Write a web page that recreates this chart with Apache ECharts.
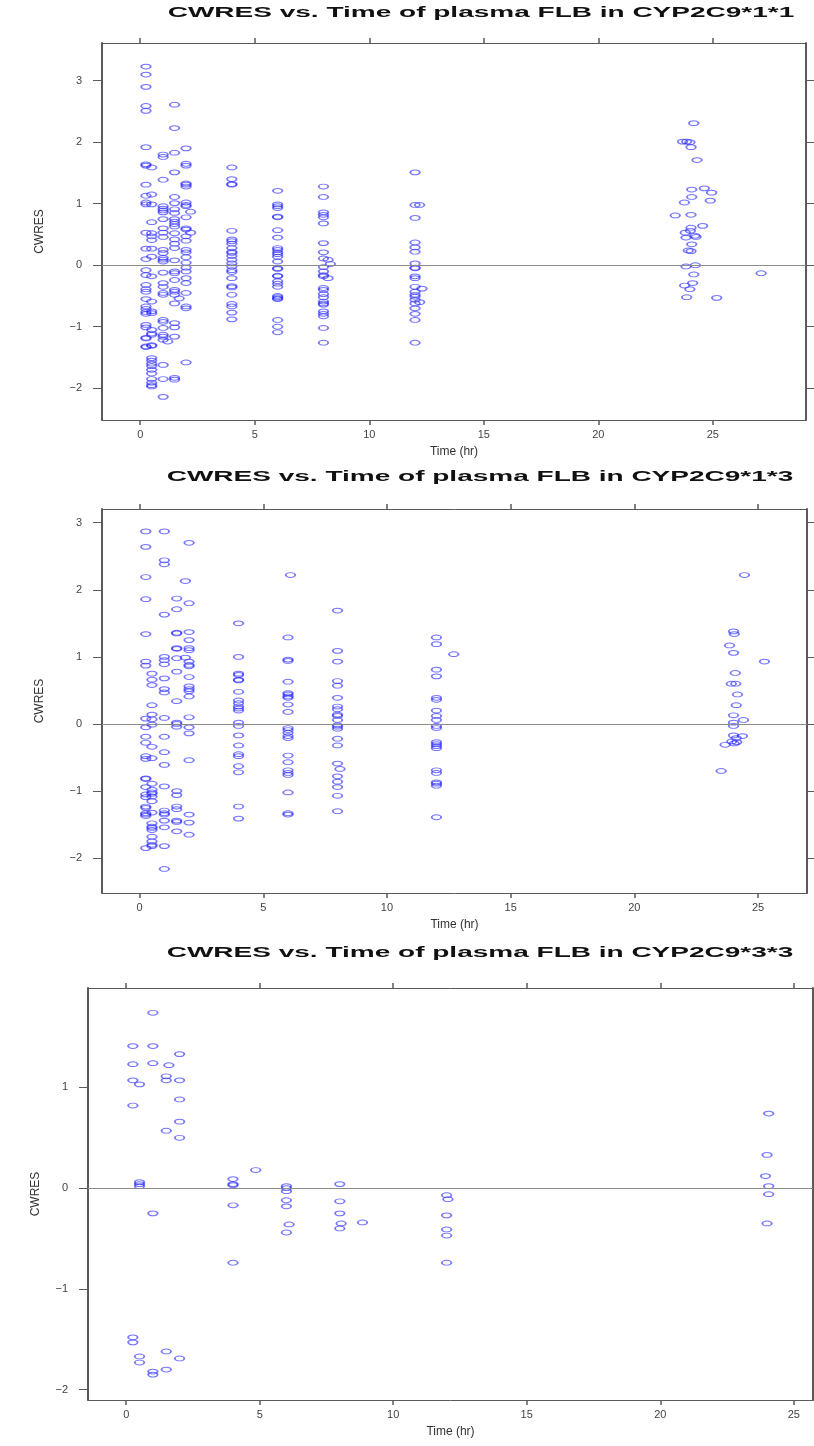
<!DOCTYPE html>
<html>
<head>
<meta charset="utf-8">
<script src="https://cdn.jsdelivr.net/npm/echarts@6/dist/echarts.min.js"></script>
<style>
  html, body { margin: 0; padding: 0; background: #ffffff; }
  #chart { width: 814px; height: 1446px; }
</style>
</head>
<body>
<div id="chart"></div>
<script>
// ---- tick labels ----
const xTicks = [0, 5, 10, 15, 20, 25];
const yTicksWide = [-2, -1, 0, 1, 2, 3];
const yTicksNarrow = [-2, -1, 0, 1];

// ---- panel titles ----
const panelTitles = [
  'CWRES vs. Time of plasma FLB in CYP2C9*1*1',
  'CWRES vs. Time of plasma FLB in CYP2C9*1*3',
  'CWRES vs. Time of plasma FLB in CYP2C9*3*3'
];

// ---- CYP2C9*1*1 : time (hr) and CWRES ----
const time11 = [
  0.25,0.25,0.25,0.25,0.25,0.25,0.25,0.25,0.25,0.25,0.25,0.25,0.25,0.25,0.25,0.25,
  0.25,0.25,0.25,0.25,0.25,0.25,0.25,0.25,0.25,0.25,0.25,0.25,0.25,0.25,0.25,
  0.5,0.5,0.5,0.5,0.5,0.5,0.5,0.5,0.5,0.5,0.5,0.5,0.5,0.5,0.5,0.5,0.5,0.5,0.5,0.5,
  0.5,0.5,0.5,0.5,0.5,0.5,0.5,0.5,
  1,1,1,1,1,1,1,1,1,1,1,1,1,1,1,1,1,1,1,1,1,1,1,1,1,1,1,1.2,1,1,1,
  1.5,1.5,1.5,1.5,1.5,1.5,1.5,1.5,1.5,1.5,1.5,1.5,1.5,1.5,1.5,1.5,1.5,1.5,1.5,1.5,
  1.5,1.5,1.5,1.7,1.5,1.5,1.5,1.5,1.5,1.5,
  2,2,2,2,2,2,2,2,2,2.2,2,2,2,2.2,2,2,2,2,2,2,2,2,2,2,2,2,2,2,
  4,4,4,4,4,4,4,4,4,4,4,4,4,4,4,4,4,4,4,4,4,4,4,4,4,
  6,6,6,6,6,6,6,6,6,6,6,6,6,6,6,6,6,6,6,6,6,6,6,6,6,6,6,6,
  8,8,8,8,8,8,8,8,8,8.2,8.3,8,8,8,8,8.2,8,8,8,8,8,8,8,8,8,8,8,8,
  12,12,12.2,12,12,12,12,12,12,12,12,12,12,12.3,12,12,12,12,12.2,12,12,12,12,12,
  24.17,23.68,23.86,24.0,24.05,24.31,24.08,24.63,24.95,24.08,24.89,23.76,23.36,24.05,
  24.56,24.05,24.02,23.8,24.22,23.83,24.27,24.08,23.93,24.05,23.83,24.24,27.11,24.17,
  24.12,23.77,24.0,23.86,25.17
];
const cwres11 = [
  3.23,3.10,2.90,2.59,2.51,1.92,1.64,1.62,1.31,1.13,1.02,0.99,0.53,0.27,0.10,-0.08,
  -0.16,-0.32,-0.39,-0.43,-0.55,-0.67,-0.71,-0.76,-0.79,-0.97,-1.01,-1.18,-1.19,-1.32,-1.33,
  1.59,1.15,0.99,0.70,0.52,0.47,0.41,0.27,0.14,-0.18,-0.59,-0.75,-0.78,-1.05,-1.11,-1.13,
  -1.30,-1.31,-1.51,-1.55,-1.60,-1.64,-1.70,-1.76,-1.85,-1.91,-1.95,-1.97,
  1.80,1.76,1.39,0.96,0.92,0.89,0.86,0.75,0.60,0.53,0.46,0.25,0.20,0.12,0.09,0.06,
  -0.12,-0.29,-0.35,-0.45,-0.48,-0.89,-0.92,-1.02,-1.13,-1.16,-1.21,-1.24,-1.62,-1.85,-2.14,
  2.61,2.23,1.83,1.51,1.11,1.01,0.91,0.85,0.75,0.71,0.67,0.63,0.52,0.42,0.35,0.28,
  0.08,-0.10,-0.13,-0.24,-0.40,-0.43,-0.48,-0.54,-0.62,-0.94,-1.01,-1.16,-1.83,-1.86,
  1.90,1.65,1.62,1.33,1.31,1.28,1.02,0.98,0.96,0.87,0.78,0.60,0.58,0.53,0.47,0.40,
  0.25,0.21,0.13,0.04,-0.04,-0.10,-0.21,-0.29,-0.45,-0.67,-0.70,-1.58,
  1.59,1.40,1.32,1.31,0.56,0.42,0.39,0.35,0.28,0.22,0.20,0.15,0.09,0.03,-0.02,-0.08,
  -0.11,-0.21,-0.34,-0.36,-0.48,-0.63,-0.67,-0.77,-0.88,
  1.21,0.99,0.96,0.93,0.79,0.78,0.57,0.45,0.28,0.25,0.21,0.18,0.14,0.06,-0.05,-0.06,
  -0.17,-0.18,-0.26,-0.30,-0.35,-0.50,-0.52,-0.54,-0.55,-0.89,-1.00,-1.09,
  1.28,1.11,0.86,0.82,0.78,0.68,0.36,0.21,0.11,0.09,0.02,-0.03,-0.10,-0.16,-0.18,-0.21,
  -0.37,-0.40,-0.47,-0.52,-0.59,-0.62,-0.64,-0.75,-0.79,-0.83,-1.02,-1.26,
  1.51,0.98,0.98,0.77,0.37,0.29,0.22,0.03,-0.04,-0.05,-0.18,-0.21,-0.35,-0.38,-0.43,-0.48,
  -0.51,-0.56,-0.60,-0.62,-0.70,-0.79,-0.89,-1.26,
  2.31,2.01,2.01,2.00,1.92,1.71,1.23,1.25,1.18,1.11,1.05,1.02,0.81,0.82,
  0.64,0.61,0.56,0.53,0.48,0.45,0.46,0.34,0.24,0.23,-0.02,0.00,-0.13,-0.15,
  -0.29,-0.33,-0.39,-0.52,-0.53
];

// ---- CYP2C9*1*3 : time (hr) and CWRES ----
const time13 = [
  0.25,0.25,0.25,0.25,0.25,0.25,0.25,0.25,0.25,0.25,0.25,0.25,0.25,0.25,0.25,0.25,
  0.25,0.25,0.25,0.25,0.25,0.25,0.25,0.25,
  0.5,0.5,0.5,0.5,0.5,0.5,0.5,0.5,0.5,0.5,0.5,0.5,0.5,0.5,0.5,0.5,0.5,0.5,0.5,0.5,
  0.5,0.5,0.5,0.5,
  1,1,1,1,1,1,1,1,1,1,1,1,1,1,1,1,1,1,1,1,1,1,
  1.5,1.5,1.5,1.5,1.5,1.5,1.5,1.5,1.5,1.5,1.5,1.5,1.5,1.5,1.5,1.5,1.5,1.5,1.5,
  1.85,1.85,
  2,2,2,2,2,2,2,2,2,2,2,2,2,2,2,2,2,2,2,2,2,
  4,4,4,4,4,4,4,4,4,4,4,4,4,4,4,4,4,4,4,4,4,4,
  6.1,6,6,6,6,6,6,6,6,6,6,6,6,6,6,6,6,6,6,6,6,6,6,6,
  8,8,8,8,8,8,8,8,8,8,8,8,8,8,8,8,8,8.1,8,8,8,8,8,
  12,12,12,12,12,12,12,12,12,12,12,12,12,12,12,12,12,12,12,12,12,12.7,
  24.45,24.01,24.04,23.85,24.01,25.26,24.08,23.92,24.1,24.17,24.12,24.01,24.41,24.01,
  24.01,24.01,24.37,24.12,23.94,24.14,24.04,23.67,23.51
];
const cwres13 = [
  2.87,2.64,2.19,1.86,1.34,0.93,0.87,0.08,-0.05,-0.19,-0.28,-0.48,-0.52,-0.81,-0.82,-0.94,
  -1.05,-1.09,-1.23,-1.25,-1.33,-1.35,-1.37,-1.85,
  0.75,0.66,0.58,0.28,0.14,0.07,-0.01,-0.34,-0.51,-0.89,-0.98,-1.02,-1.04,-1.08,-1.15,-1.32,
  -1.48,-1.53,-1.55,-1.58,-1.68,-1.75,-1.80,-1.82,
  2.87,2.44,2.38,1.63,1.00,0.95,0.89,0.68,0.52,0.47,0.09,-0.19,-0.42,-0.61,-0.93,-1.29,
  -1.33,-1.35,-1.44,-1.54,-1.82,-2.16,
  1.87,1.71,1.36,1.35,1.13,1.12,0.98,0.78,0.34,0.02,0.00,-0.04,-1.00,-1.06,-1.23,-1.27,
  -1.44,-1.46,-1.60,
  2.13,0.99,
  2.70,1.80,1.37,1.25,1.13,1.10,0.93,0.88,0.86,0.70,0.56,0.52,0.49,0.41,0.10,-0.05,
  -0.14,-0.54,-1.35,-1.47,-1.65,
  1.50,1.00,0.75,0.73,0.66,0.65,0.48,0.35,0.31,0.26,0.23,0.20,0.02,-0.03,-0.17,-0.32,
  -0.45,-0.48,-0.63,-0.72,-1.23,-1.41,
  2.22,1.29,0.96,0.94,0.63,0.46,0.44,0.41,0.39,0.29,0.18,-0.06,-0.09,-0.13,-0.18,-0.21,
  -0.47,-0.57,-0.69,-0.73,-0.76,-1.02,-1.33,-1.35,
  1.69,1.09,0.93,0.64,0.57,0.39,0.26,0.22,0.14,0.12,0.06,-0.02,-0.04,-0.07,-0.22,-0.32,
  -0.59,-0.67,-0.78,-0.86,-0.94,-1.07,-1.30,
  1.29,1.19,0.81,0.71,0.39,0.36,0.20,0.12,0.06,-0.03,-0.06,-0.27,-0.30,-0.33,-0.36,-0.69,
  -0.73,-0.87,-0.89,-0.92,-1.39,1.04,
  2.22,1.38,1.34,1.17,1.06,0.93,0.76,0.60,0.60,0.44,0.28,0.13,0.06,0.02,
  -0.03,-0.17,-0.18,-0.21,-0.26,-0.27,-0.29,-0.31,-0.70
];

// ---- CYP2C9*3*3 : time (hr) and CWRES ----
const time33 = [
  1.0,0.25,1.0,0.25,1.0,2.0,1.6,0.25,0.5,1.5,1.5,2.0,2.0,0.25,2.0,1.5,2.0,
  0.5,0.5,0.5,1.0,0.25,0.25,0.5,0.5,1.5,2.0,1.5,1.0,1.0,
  4,4,4,4,4,4.85,
  6,6,6,6,6,6.1,6,
  8,8,8,8.05,8,8.85,
  12,12.05,12,12,12,12,
  24.06,24.0,23.94,24.06,24.06,24.0
];
const cwres33 = [
  1.74,1.41,1.41,1.23,1.24,1.33,1.22,1.07,1.03,1.11,1.07,1.07,0.88,0.82,0.66,0.57,0.50,
  0.06,0.04,0.02,-0.25,-1.48,-1.53,-1.67,-1.73,-1.62,-1.69,-1.80,-1.82,-1.85,
  0.09,0.04,0.03,-0.17,-0.74,0.18,
  0.02,0.00,-0.03,-0.12,-0.18,-0.36,-0.44,
  0.04,-0.13,-0.25,-0.35,-0.40,-0.34,
  -0.07,-0.11,-0.27,-0.41,-0.47,-0.74,
  0.74,0.33,0.12,0.02,-0.06,-0.35
];

// ---- panel layout (pixel boxes and axis extents) ----
const panels = [
  { times: time11, values: cwres11, yTicks: yTicksWide,
    box: { left: 102, top: 43, width: 704, height: 377 },
    xMin: -1.67, xMax: 29.07, yMin: -2.516, yMax: 3.613,
    titleY: 13, titleX: 481, yNameGap: 56 },
  { times: time13, values: cwres13, yTicks: yTicksWide,
    box: { left: 102, top: 509, width: 705, height: 384 },
    xMin: -1.52, xMax: 26.98, yMin: -2.519, yMax: 3.204,
    titleY: 477, titleX: 480, yNameGap: 56 },
  { times: time33, values: cwres33, yTicks: yTicksNarrow,
    box: { left: 88, top: 988, width: 725, height: 412 },
    xMin: -1.43, xMax: 25.72, yMin: -2.102, yMax: 1.986,
    titleY: 953, titleX: 480, yNameGap: 46 }
];

const FONT = '"Liberation Sans", Arial, Helvetica, sans-serif';
const AXIS_COLOR = '#5a5a5a';
const LABEL_COLOR = '#444444';
const POINT_COLOR = 'rgba(35, 35, 255, 0.78)';
const ELLIPSE = 'path://M0,5A5,5 0 1 1 10,5A5,5 0 1 1 0,5Z';

const minusSign = v => String(v).replace('-', '\u2212');

const grids = [], xAxes = [], yAxes = [], series = [], graphics = [];

panels.forEach((p, i) => {
  grids.push(Object.assign({ containLabel: false }, p.box));

  const xBase = {
    gridIndex: i, type: 'value', min: p.xMin, max: p.xMax,
    splitLine: { show: false },
    axisLine: { show: true, onZero: false, lineStyle: { color: AXIS_COLOR, width: 1 } },
    axisTick: { show: true, customValues: xTicks, length: 5, lineStyle: { color: AXIS_COLOR, width: 1.5 } }
  };
  xAxes.push(Object.assign({}, xBase, {
    position: 'bottom',
    axisLabel: { customValues: xTicks, margin: 9, fontSize: 11, color: LABEL_COLOR, fontFamily: FONT },
    name: 'Time (hr)', nameLocation: 'middle', nameGap: 26,
    nameTextStyle: { fontSize: 12, color: '#333333', fontFamily: FONT }
  }));
  xAxes.push(Object.assign({}, xBase, {
    position: 'top', axisLabel: { show: false }
  }));

  const yBase = {
    gridIndex: i, type: 'value', min: p.yMin, max: p.yMax,
    splitLine: { show: false },
    axisLine: { show: true, onZero: false, lineStyle: { color: AXIS_COLOR, width: 2 } },
    axisTick: { show: true, customValues: p.yTicks, length: 9, lineStyle: { color: AXIS_COLOR, width: 1 } }
  };
  yAxes.push(Object.assign({}, yBase, {
    position: 'left',
    axisLabel: { customValues: p.yTicks, margin: 20, fontSize: 11, color: LABEL_COLOR,
                 fontFamily: FONT, formatter: minusSign },
    name: 'CWRES', nameLocation: 'middle', nameRotate: 90, nameGap: p.yNameGap,
    nameTextStyle: { fontSize: 12, color: '#333333', fontFamily: FONT }
  }));
  yAxes.push(Object.assign({}, yBase, {
    position: 'right', axisLabel: { show: false }
  }));

  series.push({
    type: 'scatter',
    xAxisIndex: 2 * i, yAxisIndex: 2 * i,
    data: p.times.map((t, k) => [t, p.values[k]]),
    symbol: ELLIPSE,
    symbolSize: [9.5, 4.8],
    itemStyle: { color: 'rgba(0,0,0,0)', borderColor: POINT_COLOR, borderWidth: 1.35 },
    emphasis: { disabled: true },
    silent: true,
    markLine: {
      silent: true, symbol: ['none', 'none'],
      label: { show: false },
      lineStyle: { color: '#8c8c8c', width: 1.2, type: 'solid' },
      data: [{ yAxis: 0 }]
    }
  });

  // bold panel title, widened horizontally
  graphics.push({
    type: 'text', x: p.titleX, y: p.titleY, scaleX: 2.0, scaleY: 1,
    style: {
      x: 0, y: 0, text: panelTitles[i],
      font: 'bold 14px ' + FONT, fill: '#111111',
      align: 'center', verticalAlign: 'middle'
    }
  });
});

const chart = echarts.init(document.getElementById('chart'), null, { renderer: 'canvas' });
chart.setOption({
  animation: false,
  backgroundColor: '#ffffff',
  grid: grids,
  xAxis: xAxes,
  yAxis: yAxes,
  series: series,
  graphic: graphics
});
</script>
</body>
</html>
